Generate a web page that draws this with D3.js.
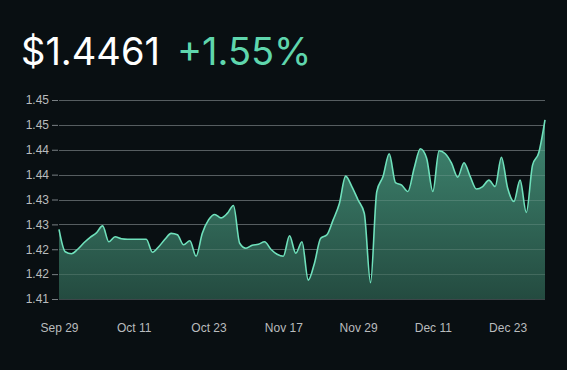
<!DOCTYPE html>
<html>
<head>
<meta charset="utf-8">
<script src="https://cdn.jsdelivr.net/npm/d3@7"></script>
<style>
  html, body { margin: 0; padding: 0; background: #090f12; }
  svg { display: block; }
</style>
</head>
<body>
<svg id="chart" width="567" height="370"></svg>
<script>
const priceText = "$1.4461";
const changeText = "+1.55%";

const values = [
  1.4240, 1.4195, 1.4191, 1.4200, 1.4213, 1.4224, 1.4233, 1.4247, 1.4215, 1.4225,
  1.4221, 1.4220, 1.4220, 1.4220, 1.4220, 1.4194, 1.4205, 1.4220, 1.4232, 1.4229,
  1.4209, 1.4217, 1.4186, 1.4232, 1.4259, 1.4270, 1.4263, 1.4272, 1.4288, 1.4212,
  1.4202, 1.4208, 1.4210, 1.4215, 1.4200, 1.4190, 1.4186, 1.4227, 1.4192, 1.4215,
  1.4138, 1.4172, 1.4222, 1.4229, 1.4259, 1.4292, 1.4347, 1.4326, 1.4299, 1.4272,
  1.4133, 1.4316, 1.4346, 1.4392, 1.4334, 1.4329, 1.4316, 1.4363, 1.4402, 1.4383,
  1.4316, 1.4398, 1.4392, 1.4373, 1.4345, 1.4374, 1.4346, 1.4321, 1.4326, 1.4339,
  1.4326, 1.4385, 1.4323, 1.4296, 1.4339, 1.4274, 1.4369, 1.4394, 1.4460
];

const xTickIndex = [0, 12, 24, 36, 48, 60, 72];
const xTickLabels = ["Sep 29", "Oct 11", "Oct 23", "Nov 17", "Nov 29", "Dec 11", "Dec 23"];

const yTickValues = [1.410, 1.415, 1.420, 1.425, 1.430, 1.435, 1.440, 1.445, 1.450];
const yTickLabels = ["1.41", "1.42", "1.42", "1.43", "1.43", "1.44", "1.44", "1.45", "1.45"];

const svg = d3.select("#chart");
const W = 567, H = 370;
const margin = { left: 59, right: 22, top: 100, bottom: 71 };

svg.append("rect").attr("width", W).attr("height", H).attr("fill", "#090f12");

// Header
const header = svg.append("text")
  .attr("x", 21).attr("y", 65)
  .attr("font-family", "Inter, Lato, sans-serif")
  .attr("font-size", 38);
header.append("tspan").attr("fill", "#ffffff").attr("font-weight", 400).text(priceText);
header.append("tspan").attr("fill", "#5fd6ad").attr("font-weight", 400).attr("dx", 17).text(changeText);

const x = d3.scaleLinear()
  .domain([0, values.length - 1])
  .range([margin.left, W - margin.right]);

const y = d3.scaleLinear()
  .domain([1.41, 1.45])
  .range([H - margin.bottom, margin.top]);

// Gradient
const defs = svg.append("defs");
const grad = defs.append("linearGradient")
  .attr("id", "areaGrad")
  .attr("gradientUnits", "userSpaceOnUse")
  .attr("x1", 0).attr("x2", 0)
  .attr("y1", y(1.45)).attr("y2", y(1.41));
grad.append("stop").attr("offset", "0%").attr("stop-color", "#438f78");
grad.append("stop").attr("offset", "100%").attr("stop-color", "#244b40");

// Y axis with grid
const yAxis = d3.axisLeft(y)
  .tickValues(yTickValues)
  .tickFormat((d, i) => yTickLabels[i])
  .tickSize(6)
  .tickPadding(3);

const yg = svg.append("g")
  .attr("transform", `translate(${margin.left - 1},0)`)
  .call(yAxis);
yg.select(".domain").remove();
yg.selectAll(".tick line").attr("stroke", "#7a8084").attr("stroke-width", 1);
yg.selectAll(".tick text")
  .attr("fill", "#b9bcbe")
  .attr("font-family", "'Liberation Sans', Arial, sans-serif")
  .attr("font-size", 12);

svg.append("g")
  .selectAll("line")
  .data(yTickValues)
  .join("line")
  .attr("x1", margin.left).attr("x2", W - margin.right)
  .attr("y1", d => Math.round(y(d)) + 0.5).attr("y2", d => Math.round(y(d)) + 0.5)
  .attr("stroke", "#3d4649").attr("stroke-width", 1);

// Area and line
const area = d3.area()
  .x((d, i) => x(i))
  .y0(y(1.41))
  .y1(d => y(d))
  .curve(d3.curveMonotoneX);

const line = d3.line()
  .x((d, i) => x(i))
  .y(d => y(d))
  .curve(d3.curveMonotoneX);

svg.append("path")
  .datum(values)
  .attr("d", area)
  .attr("fill", "url(#areaGrad)");

svg.append("g")
  .selectAll("line")
  .data(yTickValues.slice(1))
  .join("line")
  .attr("x1", margin.left).attr("x2", W - margin.right)
  .attr("y1", d => Math.round(y(d)) + 0.5).attr("y2", d => Math.round(y(d)) + 0.5)
  .attr("stroke", "#ffffff").attr("stroke-opacity", 0.13).attr("stroke-width", 1);

svg.append("path")
  .datum(values)
  .attr("d", line)
  .attr("fill", "none")
  .attr("stroke", "#6fe0bb")
  .attr("stroke-width", 1.6);

// X axis
const xAxis = d3.axisBottom(x)
  .tickValues(xTickIndex)
  .tickFormat((d, i) => xTickLabels[i])
  .tickSize(0)
  .tickPadding(0);

const xg = svg.append("g")
  .attr("transform", `translate(0,${H - margin.bottom + 24})`)
  .call(xAxis);
xg.select(".domain").remove();
xg.selectAll(".tick text")
  .attr("fill", "#b9bcbe")
  .attr("font-family", "'Liberation Sans', Arial, sans-serif")
  .attr("font-size", 12);
</script>
</body>
</html>
